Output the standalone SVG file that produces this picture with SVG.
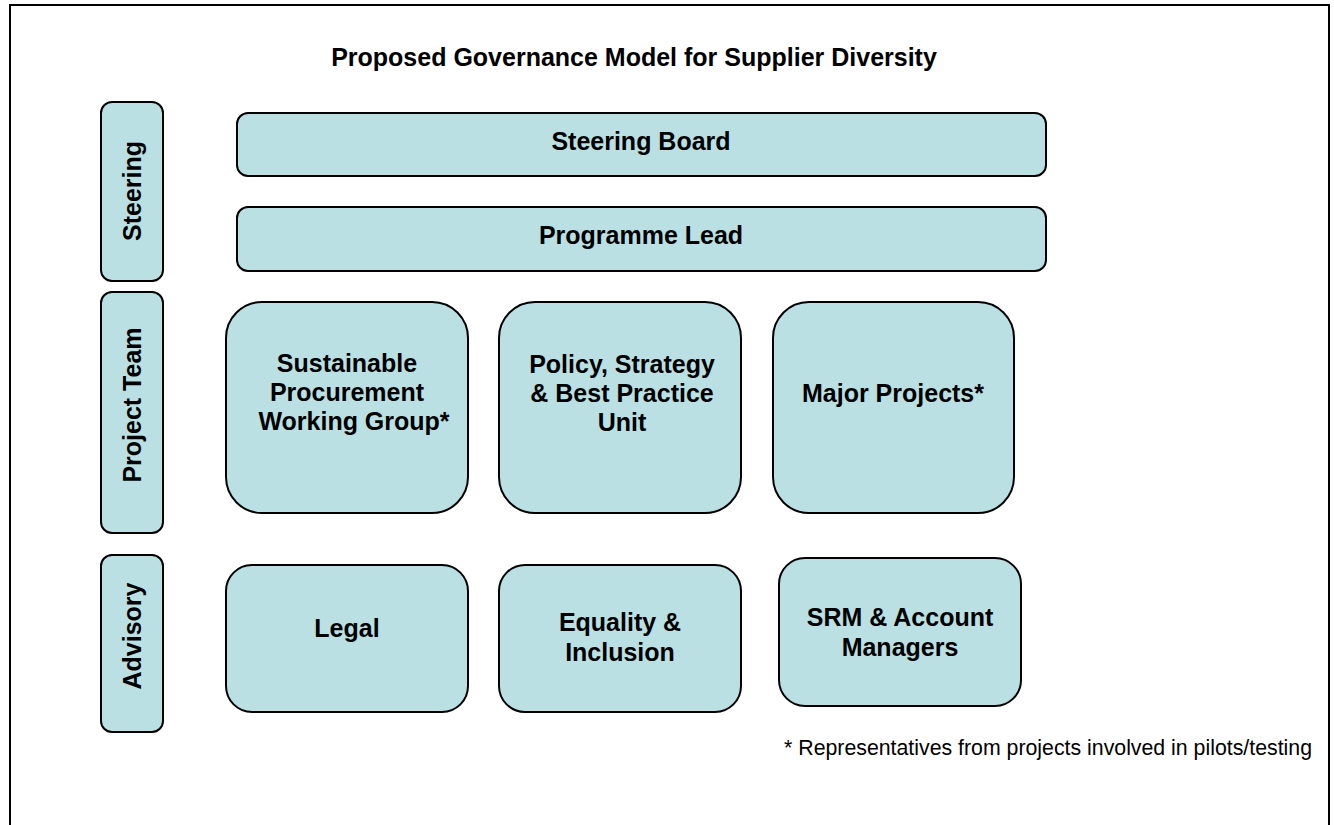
<svg xmlns="http://www.w3.org/2000/svg" width="1334" height="825" viewBox="0 0 1334 825">
  <style>
    .box { fill: #bae0e3; stroke: #000; stroke-width: 2; }
    .lbl { font-family: "Liberation Sans", Arial, sans-serif; font-weight: bold; font-size: 25px; fill: #000; text-anchor: middle; }
    .title { font-family: "Liberation Sans", Arial, sans-serif; font-weight: bold; font-size: 25px; fill: #000; text-anchor: middle; }
    .note { font-family: "Liberation Sans", Arial, sans-serif; font-size: 21.3px; fill: #000; text-anchor: end; }
  </style>
  <rect x="0" y="0" width="1334" height="825" fill="#fff"/>
  <!-- outer frame -->
  <rect x="10" y="5" width="1319" height="830" fill="none" stroke="#000" stroke-width="2"/>
  <text class="title" x="634" y="66">Proposed Governance Model for Supplier Diversity</text>

  <!-- row labels -->
  <g id="row-steering">
    <rect class="box" x="101" y="102" width="62" height="179" rx="11"/>
    <text class="lbl" transform="translate(141,191) rotate(-90)">Steering</text>
  </g>
  <g id="row-project-team">
    <rect class="box" x="101" y="292" width="62" height="241" rx="11"/>
    <text class="lbl" transform="translate(141,405) rotate(-90)">Project Team</text>
  </g>
  <g id="row-advisory">
    <rect class="box" x="101" y="555" width="62" height="177" rx="11"/>
    <text class="lbl" transform="translate(141,636) rotate(-90)">Advisory</text>
  </g>

  <!-- steering -->
  <g id="steering-board">
    <rect class="box" x="237" y="113" width="809" height="63" rx="11"/>
    <text class="lbl" x="641" y="150">Steering Board</text>
  </g>
  <g id="programme-lead">
    <rect class="box" x="237" y="207" width="809" height="64" rx="11"/>
    <text class="lbl" x="641" y="244">Programme Lead</text>
  </g>

  <!-- project team -->
  <g id="sustainable-procurement">
    <rect class="box" x="226" y="302" width="242" height="211" rx="36"/>
    <text class="lbl" x="347" y="372">Sustainable</text>
    <text class="lbl" x="347" y="401">Procurement</text>
    <text class="lbl" x="354" y="430">Working Group*</text>
  </g>
  <g id="policy-strategy">
    <rect class="box" x="499" y="302" width="242" height="211" rx="36"/>
    <text class="lbl" x="622" y="373">Policy, Strategy</text>
    <text class="lbl" x="622" y="402">&amp; Best Practice</text>
    <text class="lbl" x="622" y="431">Unit</text>
  </g>
  <g id="major-projects">
    <rect class="box" x="773" y="302" width="241" height="211" rx="36"/>
    <text class="lbl" x="893" y="402">Major Projects*</text>
  </g>

  <!-- advisory -->
  <g id="legal">
    <rect class="box" x="226" y="565" width="242" height="147" rx="26"/>
    <text class="lbl" x="347" y="637">Legal</text>
  </g>
  <g id="equality-inclusion">
    <rect class="box" x="499" y="565" width="242" height="147" rx="26"/>
    <text class="lbl" x="620" y="631">Equality &amp;</text>
    <text class="lbl" x="620" y="661">Inclusion</text>
  </g>
  <g id="srm-account-managers">
    <rect class="box" x="779" y="558" width="242" height="148" rx="26"/>
    <text class="lbl" x="900" y="626">SRM &amp; Account</text>
    <text class="lbl" x="900" y="656">Managers</text>
  </g>

  <g id="connectors"></g>

  <text class="note" x="1312" y="755">* Representatives from projects involved in pilots/testing</text>
</svg>
